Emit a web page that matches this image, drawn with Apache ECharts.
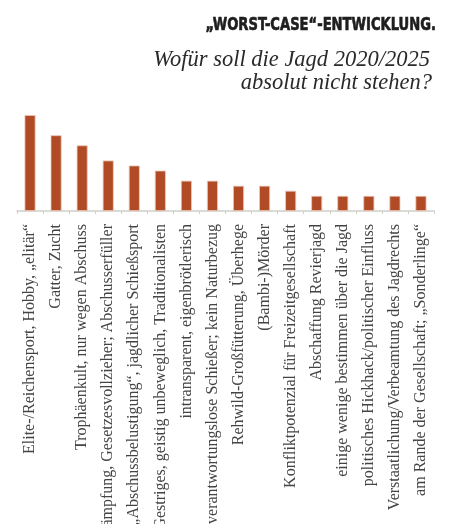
<!DOCTYPE html>
<html>
<head>
<meta charset="utf-8">
<script src="https://cdn.jsdelivr.net/npm/echarts@6/dist/echarts.min.js"></script>
<style>
html,body{margin:0;padding:0;background:#fff;}
#chart{width:449px;height:524px;}
</style>
</head>
<body>
<div id="chart"></div>
<script>
const categories = [
  "Elite-/Reichensport, Hobby, „elitär“",
  "Gatter, Zucht",
  "Trophäenkult, nur wegen Abschuss",
  "Schädlingsbekämpfung, Gesetzesvollzieher; Abschusserfüller",
  "„Abschussbelustigung“, jagdlicher Schießsport",
  "Gestriges, geistig unbeweglich, Traditionalisten",
  "intransparent, eigenbrötlerisch",
  "verantwortungslose Schießer; kein Naturbezug",
  "Rehwild-Großfütterung, Überhege",
  "(Bambi-)Mörder",
  "Konfliktpotenzial für Freizeitgesellschaft",
  "Abschaffung Revierjagd",
  "einige wenige bestimmen über die Jagd",
  "politisches Hickhack/politischer Einfluss",
  "Verstaatlichung/Verbeamtung des Jagdrechts",
  "am Rande der Gesellschaft; „Sonderlinge“"
];
const values = [19, 15, 13, 10, 9, 8, 6, 6, 5, 5, 4, 3, 3, 3, 3, 3];
const titleText = "„WORST-CASE“-ENTWICKLUNG.";
const subtitleLines = ["Wofür soll die Jagd 2020/2025", "absolut nicht stehen?"];

const chart = echarts.init(document.getElementById('chart'), null, {renderer: 'canvas'});
chart.setOption({
  animation: false,
  backgroundColor: '#ffffff',
  graphic: [
    {
      type: 'text',
      x: 436,
      y: 34,
      scaleX: 0.75,
      style: {
        text: titleText,
        font: 'bold 17.5px "DejaVu Sans", sans-serif',
        fill: '#1e1e1e',
        stroke: '#1e1e1e',
        lineWidth: 0.7,
        textAlign: 'right',
        textVerticalAlign: 'bottom'
      }
    },
    {
      type: 'text',
      x: 430,
      y: 72,
      style: {
        text: subtitleLines[0],
        font: 'italic 22.5px "Liberation Serif", serif',
        fill: '#2a2a2a',
        textAlign: 'right',
        textVerticalAlign: 'bottom'
      }
    },
    {
      type: 'text',
      x: 432,
      y: 95,
      style: {
        text: subtitleLines[1],
        font: 'italic 22.5px "Liberation Serif", serif',
        fill: '#2a2a2a',
        textAlign: 'right',
        textVerticalAlign: 'bottom'
      }
    }
  ],
  grid: {
    left: 17,
    right: 15,
    top: 110,
    height: 101,
    containLabel: false,
    outerBoundsMode: 'none'
  },
  xAxis: {
    type: 'category',
    data: categories,
    axisLine: {lineStyle: {color: '#d0cfc8', width: 1.5}},
    axisTick: {show: true, length: 3, lineStyle: {color: '#d0cfc8', width: 1}},
    axisLabel: {
      interval: 0,
      rotate: 90,
      margin: 13,
      fontFamily: '"Liberation Serif", "DejaVu Serif", serif',
      fontSize: 16,
      color: '#444444'
    }
  },
  yAxis: {
    type: 'value',
    min: 0,
    max: 20,
    show: false,
    splitLine: {show: false}
  },
  series: [{
    type: 'bar',
    data: values,
    barWidth: 11,
    itemStyle: {
      color: '#b04b26',
      borderColor: '#ecc9bb',
      borderWidth: 0.8
    }
  }]
});
</script>
</body>
</html>
